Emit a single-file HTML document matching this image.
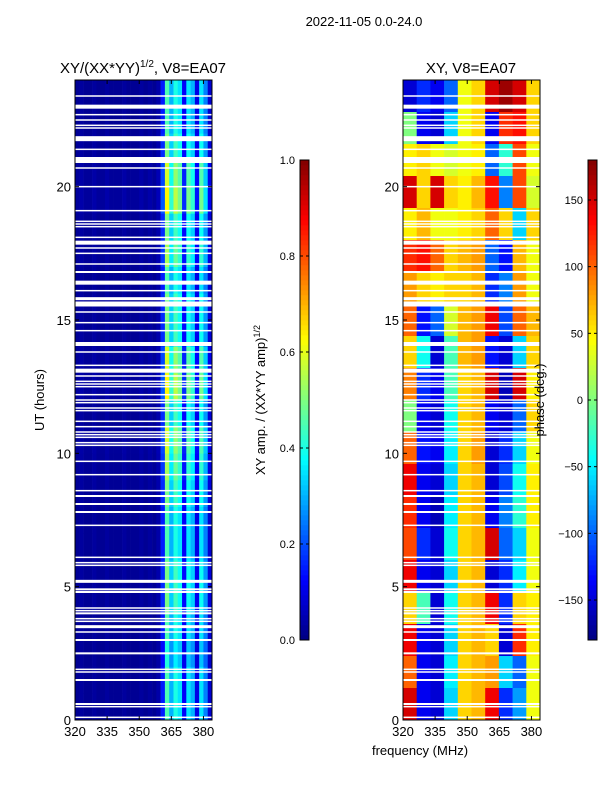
<!DOCTYPE html>
<html><head><meta charset="utf-8"><style>
body{margin:0;background:#fff;font-family:"Liberation Sans",sans-serif}
svg text{font-family:"Liberation Sans",sans-serif;fill:#000}
</style></head><body>
<svg id="fig" width="600" height="800" xmlns="http://www.w3.org/2000/svg">
<rect width="600" height="800" fill="#fff"/>
<text x="364" y="26" font-size="13" text-anchor="middle">2022-11-05 0.0-24.0</text>
<text x="143" y="73" font-size="15" text-anchor="middle">XY/(XX*YY)<tspan dy="-6" font-size="10">1/2</tspan><tspan dy="6">, V8=EA07</tspan></text>
<text x="471" y="73" font-size="15" text-anchor="middle">XY, V8=EA07</text>
<g id="left"></g>
<g id="right"></g>
<g id="axes"></g>
<text x="44" y="400" font-size="13" text-anchor="middle" transform="rotate(-90 44 400)">UT (hours)</text>
<text x="420" y="755" font-size="13" text-anchor="middle">frequency (MHz)</text>
<text x="265" y="400" font-size="13" text-anchor="middle" transform="rotate(-90 265 400)">XY amp. / (XX*YY amp)<tspan dy="-5" font-size="9">1/2</tspan></text>
<text x="544" y="400" font-size="13" text-anchor="middle" transform="rotate(-90 544 400)">phase (deg.)</text>
</svg>
<script>
const ampCols=[0.02,0.03,0.02,0.02,0.03,0.02,0.02,0.03,0.02,0.02,0.02,0.03,0.02,0.02,0.02,0.03,0.02,0.03,0.02,0.04,0.15,0.45,0.3,0.4,0.35,0.12,0.35,0.3,0.1,0.35,0.25,0.08];
const ampRowScale=[1,1,0.9,1,1.1,1.1,1,1,1.1,1.2,1.3,1.1,1.4,1.3,1.1,1.1,1,1.2,1.1,1.4,1.3,1.1,1,1];
const phaseGrid=[
[-150,-120,-140,-100,40,60,150,170,150,60],
[0,-140,-150,-60,40,60,-140,120,130,60],
[50,60,40,30,40,50,-100,-30,110,40],
[150,60,150,60,50,70,130,-90,110,30],
[50,70,40,40,50,60,100,60,-60,60],
[120,130,100,60,70,80,-100,-130,70,40],
[80,60,50,60,60,70,-120,-90,80,40],
[100,-130,-100,30,70,80,140,-110,100,70],
[60,-40,-150,-20,70,80,-130,-150,-60,60],
[90,-120,-140,-20,60,70,150,-160,150,50],
[0,-140,-150,-40,60,70,-140,-150,-100,60],
[100,-130,-140,-50,60,80,-150,-120,-60,40],
[140,-140,-150,-60,60,70,-150,-110,-40,50],
[120,-140,-160,-50,60,70,-140,-90,-30,50],
[110,-120,-150,-40,60,70,150,-100,-60,40],
[140,-140,-150,-60,60,70,-150,-120,-50,40],
[60,-20,-150,-40,60,70,140,-120,60,50],
[140,-140,-150,-60,60,70,60,-150,120,50],
[100,-140,-150,-50,60,70,80,-60,-100,40],
[150,-140,-150,-60,60,70,140,-120,-80,40]];
const gapHours=[23.4,23.0,22.7,22.5,22.3,22.2,21.8,21.4,21.0,20.7,20.0,19.1,18.7,18.6,18.5,18.1,17.9,17.7,17.5,17.1,16.8,16.4,16.1,15.8,15.6,15.3,14.9,14.6,14.1,13.8,13.3,13.1,12.9,12.7,12.6,12.5,12.2,12.0,11.9,11.7,11.6,11.2,11.0,10.8,10.7,10.6,10.4,10.3,9.7,9.2,8.6,8.4,8.1,7.8,7.3,6.1,5.9,5.8,5.2,4.9,4.8,4.2,4.1,4.0,3.8,3.7,3.5,3.3,3.0,2.5,1.9,1.8,1.5,0.6,0.5,0.1];
const gapThick=[1.5,4,1.5,1.5,1.5,1.5,5,1.5,6,1.5,1.5,1.5,1.5,1.5,1.5,1.5,4,1.5,1.5,1.5,2,4,1.5,3,5,1.5,1.5,1.5,4,1.5,1.5,4,1.5,1.5,1.5,1.5,1.5,1.5,1.5,1.5,1.5,1.5,1.5,1.5,1.5,1.5,1.5,1.5,1.5,1.5,1.5,2,2,2,1.5,1.5,1.5,1.5,3,2,2,1.5,1.5,2,1.5,1.5,3,1.5,2,2,1.5,1.5,2,2,1.5,1.5];
const xTicks=[320,335,350,365,380];
const yTicks=[0,5,10,15,20];
const ampTicks=[0,0.2,0.4,0.6,0.8,1.0];
const phaseTicks=[-150,-100,-50,0,50,100,150];

const NS="http://www.w3.org/2000/svg";
const T=80,B=720,PH=640;
const yUT=h=>B-h/24*PH;
const panels=[{x0:75,id:'left'},{x0:403,id:'right'}];
const xF=(x0,f)=>x0+(f-320)/64*137;
function jet(v){v=Math.max(0,Math.min(1,v));
 const c=t=>Math.round(255*Math.max(0,Math.min(1,1.5-Math.abs(4*v-t))));
 return `rgb(${c(3)},${c(2)},${c(1)})`;}
function mk(tag,attrs,parent){const e=document.createElementNS(NS,tag);for(const k in attrs)e.setAttribute(k,attrs[k]);parent.appendChild(e);return e;}
const L=document.getElementById('left'),R=document.getElementById('right'),A=document.getElementById('axes');
ampRowScale.forEach((s,r)=>{ampCols.forEach((a,c)=>{
 const x1=xF(75,320+c*2),x2=xF(75,322+c*2),y1=yUT(r+1),y2=yUT(r);
 const e=mk('rect',{x:x1,y:y1,width:x2-x1+0.3,height:y2-y1+0.3,fill:jet(a*s)},L);
 
 
});});
const nR=phaseGrid.length,nC=phaseGrid[0].length;
phaseGrid.forEach((row,r)=>{row.forEach((p,c)=>{
 const f1=320+c*64/nC,f2=320+(c+1)*64/nC;
 const h2=24-r*24/nR,h1=24-(r+1)*24/nR;
 const x1=xF(403,f1),x2=xF(403,f2),y1=yUT(h2),y2=yUT(h1);
 const e=mk('rect',{x:x1,y:y1,width:x2-x1+0.3,height:y2-y1+0.3,fill:jet((p+180)/360)},R);
 
 
});});
gapHours.forEach((h,i)=>{panels.forEach(p=>{
 const e=mk('rect',{x:p.x0,y:yUT(h)-gapThick[i]/2,width:137,height:gapThick[i],fill:'#fff'},A);
 
 
});});
panels.forEach(p=>{
 const fr=mk('rect',{x:p.x0,y:T,width:137,height:PH,fill:'none',stroke:'#000','stroke-width':1},A);
 
 
 xTicks.forEach(f=>{const x=xF(p.x0,f);
  mk('line',{x1:x,x2:x,y1:B,y2:B-4,stroke:'#000'},A);mk('line',{x1:x,x2:x,y1:T,y2:T+4,stroke:'#000'},A);
  const t=mk('text',{x:x,y:B+16,'font-size':13,'text-anchor':'middle'},A);t.textContent=f;
  
  });
 yTicks.forEach(h=>{const y=yUT(h);
  mk('line',{x1:p.x0,x2:p.x0+4,y1:y,y2:y,stroke:'#000'},A);mk('line',{x1:p.x0+137,x2:p.x0+133,y1:y,y2:y,stroke:'#000'},A);
  const t=mk('text',{x:p.x0-4,y:y+5,'font-size':13,'text-anchor':'end'},A);t.textContent=h;
  
  });
});
function colorbar(x,vals,lo,hi,name,fmt){
 for(let i=0;i<96;i++){mk('rect',{x:x,y:640-(i+1)*5,width:9,height:5.3,fill:jet((i+0.5)/96)},A);}
 const f=mk('rect',{x:x,y:160,width:9,height:480,fill:'none',stroke:'#000'},A);
 
 
 vals.forEach(v=>{const y=640-(v-lo)/(hi-lo)*480;
  mk('line',{x1:x,x2:x+3,y1:y,y2:y,stroke:'#000'},A);mk('line',{x1:x+9,x2:x+6,y1:y,y2:y,stroke:'#000'},A);
  const t=mk('text',{x:x-5,y:y+4,'font-size':11,'text-anchor':'end'},A);t.textContent=fmt(v);
  
  });
}
colorbar(300,ampTicks,0,1,'amp-colorbar',v=>v.toFixed(1));
colorbar(588,phaseTicks,-180,180,'phase-colorbar',v=>v<0?'\u2212'+(-v):String(v));
</script>
</body></html>
